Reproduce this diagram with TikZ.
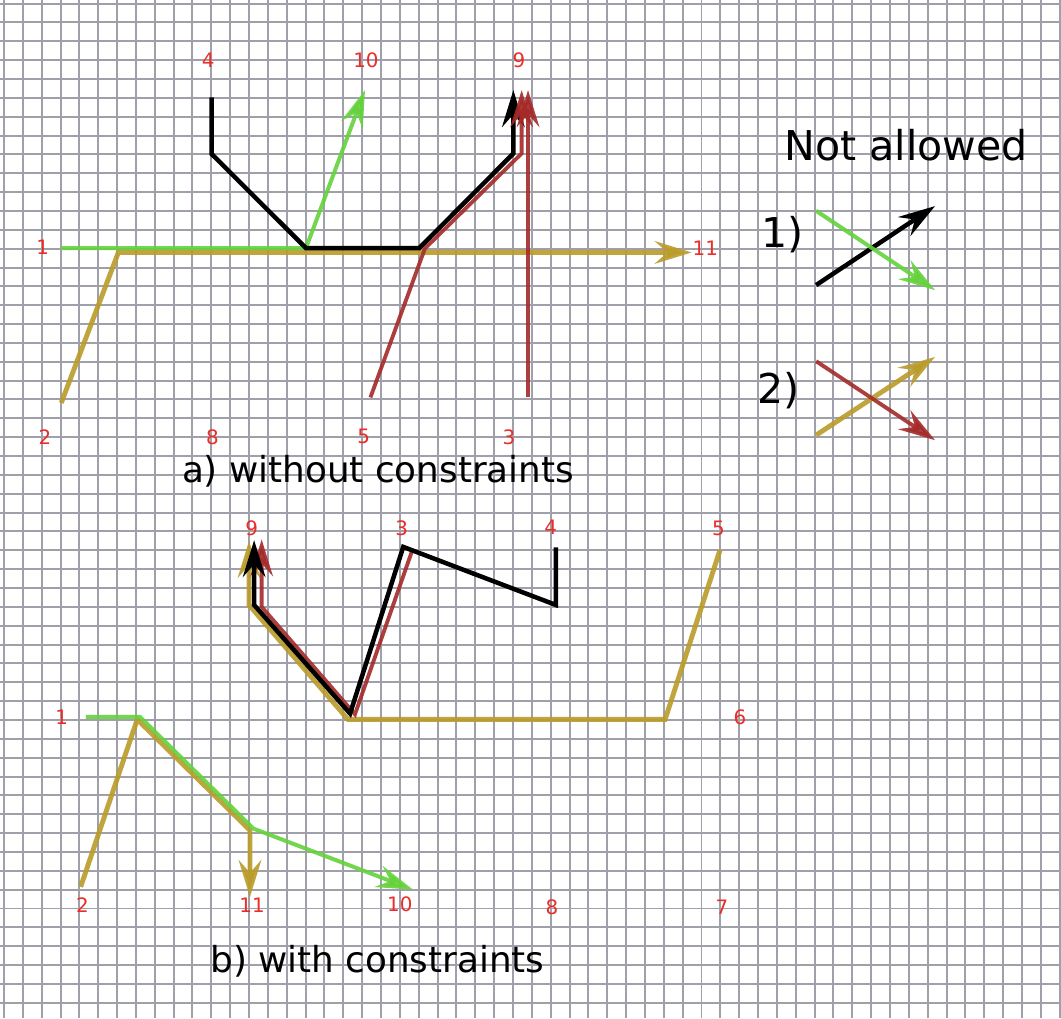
\documentclass[tikz,border=0pt]{standalone}
\usepackage{fontspec}
\setmainfont{DejaVu Sans}
\usetikzlibrary{arrows.meta}
\definecolor{gridgray}{RGB}{120,120,135}
\definecolor{routegreen}{RGB}{100,210,60}
\definecolor{routeolive}{RGB}{186,156,42}
\definecolor{routered}{RGB}{165,42,42}
\definecolor{labelred}{RGB}{235,45,40}
\begin{document}
\begin{tikzpicture}[x=0.5cm, y=0.5cm,
    >={Stealth[length=9.8mm, width=6mm, inset=3.4mm]},
    gridline/.style={gridgray, line width=1.5pt, opacity=0.7},
    num/.style={text=labelred, inner sep=0pt, font=\fontsize{15pt}{17pt}\selectfont},
    caption/.style={anchor=base, inner sep=0pt, font=\fontsize{27pt}{32pt}\selectfont},
    legend/.style={anchor=base, inner sep=0pt, font=\fontsize{31pt}{36pt}\selectfont},
    grn/.style={routegreen, line width=3pt, opacity=0.9},
    olv/.style={routeolive, line width=3.7pt, opacity=0.9},
    brn/.style={routered, line width=2.9pt, opacity=0.9},
    blk/.style={black, line width=3.4pt}]
    % Page and squared paper (rows counted downwards, so y is negated)
    \useasboundingbox (-0.21,0.19) rectangle (56.07,-53.82);
    \fill[white] (-0.21,0.19) rectangle (56.07,-53.82);
    \draw[gridline, step=1] (-0.21,-53.82) grid (56.07,0.19);

    \begin{scope}[yscale=-1]
    % a) without constraints: routes
    \draw[olv, ->] (3.04,21.18) -- (6.07,13.2) -- (36.48,13.2);
    \draw[grn, ->] (3.06,12.97) -- (16.02,12.97) -- (19.15,4.59);
    \draw[blk, ->] (11.02,4.98) -- (11.02,7.98) -- (16.02,12.97) -- (22.03,12.97)
        -- (27.02,7.95) -- (27.02,4.59);
    \draw[brn, ->] (19.44,20.89) -- (22.33,12.99) -- (27.46,7.95) -- (27.46,4.59);
    \draw[brn, ->] (27.8,20.89) -- (27.8,4.59);
    % a) point numbers
    \node[num] (a4) at (10.84,3) {4};
    \node[num] (a10) at (19.2,3) {10};
    \node[num] (a9) at (27.32,3) {9};
    \node[num] (a1) at (2.05,12.92) {1};
    \node[num] (a11) at (37.2,12.97) {11};
    \node[num] (a2) at (2.18,22.98) {2};
    \node[num] (a8) at (11.06,22.98) {8};
    \node[num] (a5) at (19.08,22.98) {5};
    \node[num] (a3) at (26.79,22.98) {3};
    \node[caption] (capa) at (19.84,25.4) {a) without constraints};

    % Not allowed: crossing routes
    \node[legend] (title) at (47.85,8.3) {Not allowed};
    \node[legend] (case1) at (41.3,12.95) {1)};
    \node[legend] (case2) at (41.1,21.2) {2)};
    \draw[blk, ->] (43.08,14.93) -- (49.39,10.74);
    \draw[grn, ->] (43.08,10.99) -- (49.39,15.2);
    \draw[olv, ->] (43.08,22.89) -- (49.39,18.74);
    \draw[brn, ->] (43.08,18.97) -- (49.39,23.16);

    % b) with constraints: routes
    \draw[olv, ->] (37.98,28.99) -- (35.07,37.97) -- (18.25,37.97) -- (13,31.9) -- (13,28.5);
    \draw[olv, ->] (4.07,46.85) -- (7.07,37.97) -- (13.05,43.85) -- (13.05,47.39);
    \draw[grn, ->] (4.35,37.83) -- (7.21,37.83) -- (13.23,43.76) -- (21.7,47);
    \draw[brn, ->] (21.63,29.08) -- (18.62,37.7) -- (13.67,32) -- (13.67,28.42);
    \draw[blk, ->] (29.28,28.85) -- (29.28,31.9) -- (21.18,28.82) -- (18.36,37.66)
        -- (13.27,31.9) -- (13.27,28.46);
    % b) point numbers
    \node[num] (b9) at (13.14,27.84) {9};
    \node[num] (b3) at (21.1,27.84) {3};
    \node[num] (b4) at (29,27.76) {4};
    \node[num] (b5) at (37.9,27.84) {5};
    \node[num] (b1) at (3.06,37.87) {1};
    \node[num] (b6) at (39.04,37.83) {6};
    \node[num] (b2) at (4.17,47.83) {2};
    \node[num] (b11) at (13.16,47.83) {11};
    \node[num] (b10) at (21,47.77) {10};
    \node[num] (b8) at (29.07,47.93) {8};
    \node[num] (b7) at (38.09,47.93) {7};
    \node[caption] (capb) at (19.81,51.4) {b) with constraints};
    \end{scope}
\end{tikzpicture}
\end{document}
